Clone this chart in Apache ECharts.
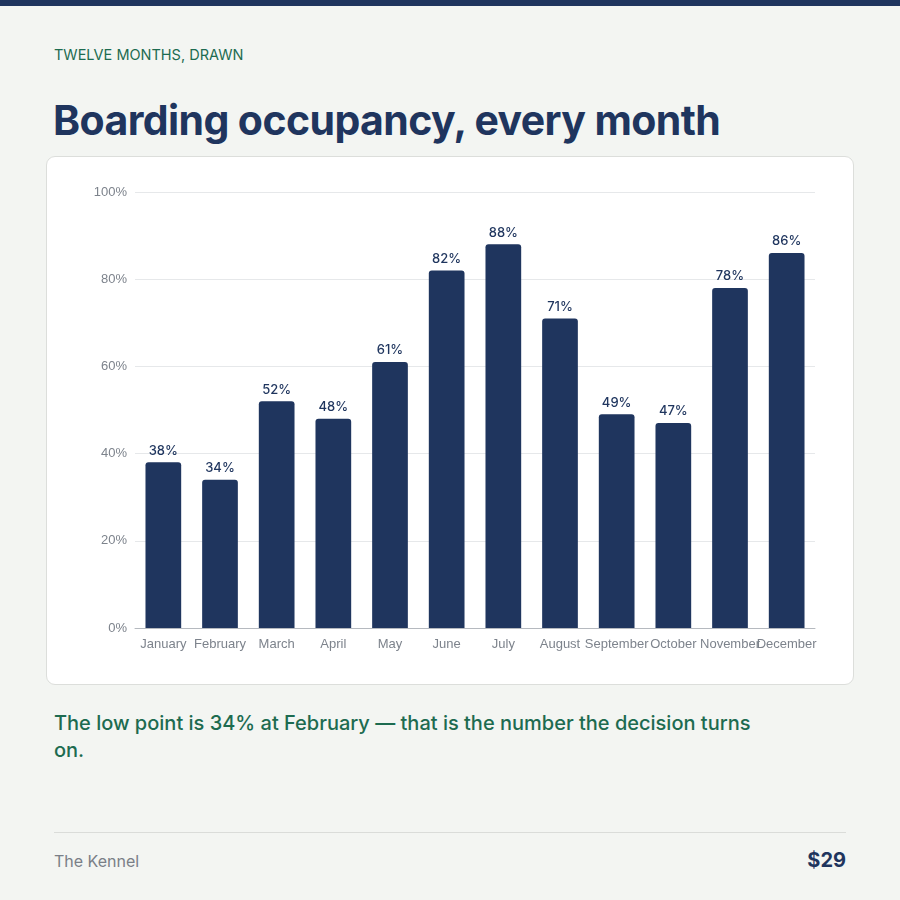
<!DOCTYPE html>
<html>
<head>
<meta charset="utf-8">
<script src="https://cdn.jsdelivr.net/npm/echarts@6/dist/echarts.min.js"></script>
<style>
  html, body { margin: 0; padding: 0; }
  body {
    width: 900px; height: 900px; position: relative; overflow: hidden;
    background: #f3f5f2; font-family: Inter, "Noto Sans", sans-serif;
  }
  .topbar { position: absolute; left: 0; top: 0; width: 900px; height: 6px; background: #1f355e; }
  .eyebrow { position: absolute; left: 54px; top: 46px; font-size: 14.5px; color: #1d6b50; }
  .title { position: absolute; left: 53px; top: 95px; font-size: 41px; font-weight: 700; color: #1f355e; letter-spacing: -0.6px; }
  .card {
    position: absolute; left: 46px; top: 156px; width: 806px; height: 527px;
    background: #fff; border: 1px solid #dcdedb; border-radius: 9px;
  }
  #main { width: 806px; height: 527px; }
  .caption { position: absolute; left: 54px; top: 710px; width: 715px; font-size: 20px; line-height: 27px; font-weight: 500; color: #1d6b50; }
  .rule { position: absolute; left: 54px; top: 832px; width: 792px; height: 1px; background: #dadcd9; }
  .brand { position: absolute; left: 54px; top: 851px; font-size: 16px; color: #7a7f87; }
  .price { position: absolute; right: 54px; top: 848px; font-size: 20px; font-weight: 700; color: #1f355e; }
</style>
</head>
<body>
<div class="topbar"></div>
<div class="eyebrow">TWELVE MONTHS, DRAWN</div>
<div class="title">Boarding occupancy, every month</div>
<div class="card"><div id="main"></div></div>
<div class="caption">The low point is 34% at February — that is the number the decision turns on.</div>
<div class="rule"></div>
<div class="brand">The Kennel</div>
<div class="price">$29</div>
<script>
var months = ['January', 'February', 'March', 'April', 'May', 'June', 'July', 'August', 'September', 'October', 'November', 'December'];
var occupancy = [38, 34, 52, 48, 61, 82, 88, 71, 49, 47, 78, 86];
var yTicks = [0, 20, 40, 60, 80, 100];

var myChart = echarts.init(document.getElementById('main'));
myChart.setOption({
	animation : false,
	grid : {
		left : 88,
		right : 38,
		top : 35,
		bottom : 56
	},
	xAxis : {
		type : 'category',
		data : months,
		axisTick : { show : false },
		axisLine : { lineStyle : { color : '#b5b9bf' } },
		axisLabel : {
			color : '#7d838c',
			fontSize : 13,
			fontFamily : 'Liberation Sans, Arial, sans-serif',
			interval : 0,
			margin : 10
		}
	},
	yAxis : {
		type : 'value',
		min : yTicks[0],
		max : yTicks[yTicks.length - 1],
		interval : 20,
		axisLabel : {
			formatter : '{value}%',
			color : '#7d838c',
			fontSize : 13,
			fontFamily : 'Liberation Sans, Arial, sans-serif',
			margin : 8
		},
		splitLine : { lineStyle : { color : '#e6e8ea' } }
	},
	series : [ {
		type : 'bar',
		data : occupancy,
		barWidth : '63%',
		itemStyle : {
			color : '#1f355e',
			borderRadius : [3, 3, 0, 0]
		},
		label : {
			show : true,
			position : 'top',
			formatter : '{c}%',
			color : '#1f355e',
			fontSize : 13,
			fontWeight : 500,
			fontFamily : 'Inter, sans-serif',
			distance : 5
		}
	} ]
});
</script>
</body>
</html>
